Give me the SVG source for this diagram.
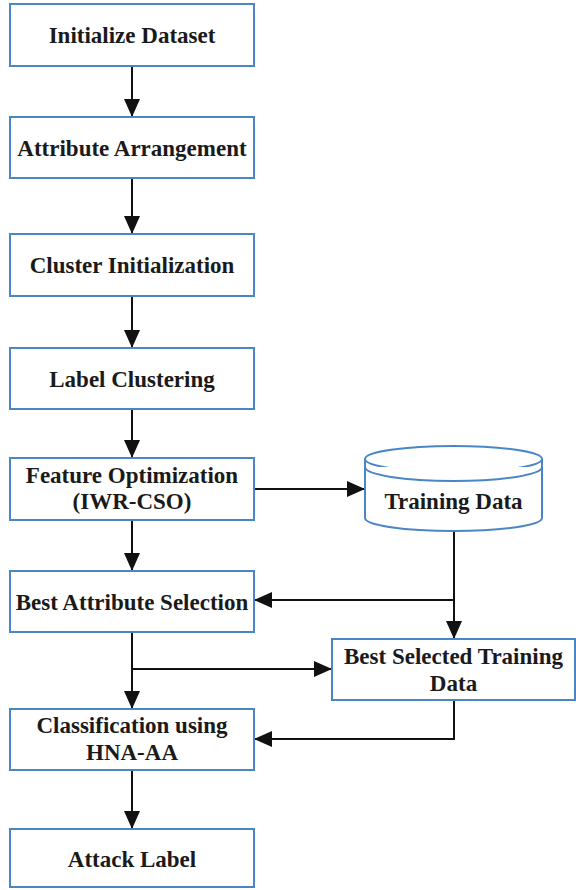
<svg xmlns="http://www.w3.org/2000/svg" width="576" height="890" viewBox="0 0 576 890">
<style>
.box{fill:#ffffff;stroke:#4a86c6;stroke-width:2}
.lbl{font-family:"Liberation Serif","Times New Roman",serif;font-weight:bold;font-size:23px;fill:#1a1a1a;text-anchor:middle}
.con{fill:none;stroke:#111111;stroke-width:2}
</style>
<defs>
<marker id="ah" markerUnits="userSpaceOnUse" markerWidth="18" markerHeight="16" refX="18" refY="8" orient="auto">
<path d="M0,0 L18,8 L0,16 Z" fill="#111111"/>
</marker>
</defs>
<rect width="576" height="890" fill="#ffffff"/>
<g id="connectors">
<path class="con" d="M132,66 V117" marker-end="url(#ah)"/>
<path class="con" d="M132,178 V234" marker-end="url(#ah)"/>
<path class="con" d="M132,296 V348" marker-end="url(#ah)"/>
<path class="con" d="M132,409 V458" marker-end="url(#ah)"/>
<path class="con" d="M132,520 V571" marker-end="url(#ah)"/>
<path class="con" d="M254,489 H365" marker-end="url(#ah)"/>
<path class="con" d="M454,531 V639" marker-end="url(#ah)"/>
<path class="con" d="M454,600 H254" marker-end="url(#ah)"/>
<path class="con" d="M132,632 V709" marker-end="url(#ah)"/>
<path class="con" d="M132,669 H332" marker-end="url(#ah)"/>
<path class="con" d="M454,700 V739 H254" marker-end="url(#ah)"/>
<path class="con" d="M132,770 V829" marker-end="url(#ah)"/>
</g>
<g id="n1"><rect class="box" x="10" y="4" width="244" height="62"/><text class="lbl" x="132" y="43">Initialize Dataset</text></g>
<g id="n2"><rect class="box" x="10" y="117" width="244" height="61"/><text class="lbl" x="132" y="155.5">Attribute Arrangement</text></g>
<g id="n3"><rect class="box" x="10" y="234" width="244" height="62"/><text class="lbl" x="132" y="273">Cluster Initialization</text></g>
<g id="n4"><rect class="box" x="10" y="348" width="244" height="61"/><text class="lbl" x="132" y="386.5">Label Clustering</text></g>
<g id="n5"><rect class="box" x="10" y="458" width="244" height="62"/><text class="lbl" x="132" y="482.5">Feature Optimization</text><text class="lbl" x="132" y="509">(IWR-CSO)</text></g>
<g id="n6"><path class="box" d="M365,459 V518 A88.5,13 0 0 0 542,518 V459"/><ellipse class="box" cx="453.5" cy="459" rx="88.5" ry="13"/><path class="box" d="M365,467 A88.5,14 0 0 0 542,467" fill="none"/><text class="lbl" x="453.5" y="508.5">Training Data</text></g>
<g id="n7"><rect class="box" x="10" y="571" width="244" height="61"/><text class="lbl" x="132" y="609.5">Best Attribute Selection</text></g>
<g id="n8"><rect class="box" x="332" y="639" width="243" height="61"/><text class="lbl" x="453.5" y="663.5">Best Selected Training</text><text class="lbl" x="453.5" y="690.5">Data</text></g>
<g id="n9"><rect class="box" x="10" y="709" width="244" height="61"/><text class="lbl" x="132" y="732.5">Classification using</text><text class="lbl" x="132" y="759.5">HNA-AA</text></g>
<g id="n10"><rect class="box" x="10" y="829" width="244" height="58"/><text class="lbl" x="132" y="866.5">Attack Label</text></g>
</svg>
